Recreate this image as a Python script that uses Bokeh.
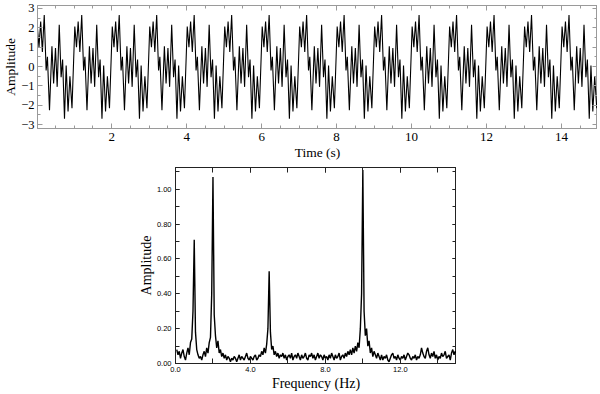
import numpy as np
from bokeh.plotting import figure
from bokeh.layouts import column, row
from bokeh.models import (LinearAxis, SingleIntervalTicker, PrintfTickFormatter, Range1d,
                          Spacer, CustomJSTickFormatter)
from bokeh.embed import file_html
from bokeh.resources import INLINE

# ---- top panel: one 1-s period of the time signal ----
cycle_t = [0.015, 0.060, 0.105, 0.150, 0.200, 0.250, 0.285, 0.340, 0.405, 0.450,
           0.500, 0.545, 0.600, 0.650, 0.690, 0.740, 0.785, 0.835, 0.885, 0.940]
cycle_v = [2.07, 1.00, 2.32, 0.75, 2.66, -0.20, 0.50, -2.26, 1.05, -0.88,
           0.96, -1.05, 2.15, -0.55, 0.36, -2.70, 0.05, -2.32, -0.50, -2.15]
n_periods = 15
start_t = 0.0
start_v = 0.10

# ---- bottom panel: amplitude spectrum, bins of 1/15 Hz (k = 1..225) ----
df = 1.0 / 15.0
spec_amp = [
    0.08, 0.05, 0.07, 0.03, 0.06, 0.08, 0.04, 0.02, 0.06, 0.09, 0.05, 0.12, 0.14, 0.30, 0.71,
    0.18, 0.08, 0.05, 0.03, 0.04, 0.02, 0.05, 0.07, 0.04, 0.09, 0.06, 0.12, 0.15, 0.40, 1.07,
    0.28, 0.16, 0.09, 0.13, 0.06, 0.08, 0.04, 0.06, 0.03, 0.05, 0.02, 0.04, 0.03, 0.01, 0.03,
    0.02, 0.04, 0.03, 0.01, 0.03, 0.05, 0.02, 0.04, 0.03, 0.02, 0.04, 0.06, 0.03, 0.02, 0.04,
    0.03, 0.02, 0.04, 0.05, 0.02, 0.03, 0.05, 0.04, 0.07, 0.05, 0.09, 0.06, 0.11, 0.20, 0.53,
    0.18, 0.08, 0.10, 0.05, 0.07, 0.04, 0.06, 0.03, 0.05, 0.04, 0.06, 0.03, 0.05, 0.02, 0.04,
    0.05, 0.03, 0.06, 0.02, 0.04, 0.05, 0.03, 0.06, 0.04, 0.02, 0.05, 0.03, 0.04, 0.06, 0.03,
    0.02, 0.05, 0.04, 0.06, 0.03, 0.05, 0.02, 0.04, 0.06, 0.03, 0.05, 0.04, 0.02, 0.05, 0.03,
    0.04, 0.02, 0.05, 0.03, 0.06, 0.04, 0.02, 0.05, 0.03, 0.04, 0.06, 0.02, 0.04, 0.05, 0.03,
    0.06, 0.04, 0.07, 0.05, 0.08, 0.05, 0.09, 0.06, 0.10, 0.07, 0.12, 0.09, 0.20, 0.40, 1.11,
    0.30, 0.16, 0.20, 0.10, 0.13, 0.06, 0.09, 0.04, 0.07, 0.05, 0.03, 0.06, 0.04, 0.02, 0.05,
    0.02, 0.04, 0.03, 0.05, 0.02, 0.01, 0.03, 0.05, 0.06, 0.03, 0.04, 0.02, 0.05, 0.03, 0.02,
    0.04, 0.03, 0.05, 0.02, 0.04, 0.06, 0.05, 0.03, 0.02, 0.04, 0.03, 0.05, 0.02, 0.04, 0.03,
    0.05, 0.09, 0.06, 0.04, 0.03, 0.07, 0.09, 0.05, 0.03, 0.06, 0.04, 0.07, 0.03, 0.05, 0.02,
    0.04, 0.03, 0.06, 0.04, 0.05, 0.07, 0.03, 0.04, 0.05, 0.02, 0.06, 0.08, 0.05, 0.07, 0.06,
]

# build series
time_s = [start_t] + [k + ct for k in range(n_periods) for ct in cycle_t]
ampl = [start_v] + [cv for k in range(n_periods) for cv in cycle_v]
freq = (np.arange(1, len(spec_amp) + 1) * df).tolist()

SERIF = "Liberation Serif"
SANS = "Liberation Sans"
BLANK = CustomJSTickFormatter(code="return ''")


def style_axis(ax, color, font, size, major_in, minor_in, labels=True):
    ax.axis_line_color = color
    ax.major_tick_line_color = color
    ax.minor_tick_line_color = color
    ax.major_tick_in = major_in
    ax.major_tick_out = 0
    ax.minor_tick_in = minor_in
    ax.minor_tick_out = 0
    ax.major_label_text_font = font
    ax.major_label_text_font_size = size
    ax.major_label_text_color = "black"
    if not labels:
        # mirror axis: ticks only, no labels and (almost) no space
        ax.formatter = BLANK
        ax.major_label_text_font_size = "1px"
        ax.major_label_standoff = 0
    ax.axis_label_text_font = SERIF
    ax.axis_label_text_font_style = "normal"
    ax.axis_label_text_color = "black"


# ---------------- top figure ----------------
p1 = figure(frame_width=560, frame_height=123,
            x_range=Range1d(0.02, 14.96), y_range=Range1d(-3.2, 3.15),
            output_backend="svg", toolbar_location=None,
            min_border_left=29, min_border_right=0, min_border_top=5, min_border_bottom=36)
p1.xgrid.visible = False
p1.ygrid.visible = False
p1.outline_line_color = "#9a9a9a"
p1.line(time_s, ampl, line_color="black", line_width=1.1)

for ax in p1.xaxis:
    style_axis(ax, "#9a9a9a", SERIF, "13px", 5, 3)
    ax.ticker = SingleIntervalTicker(interval=2, num_minor_ticks=4)
    ax.major_label_standoff = 4
    ax.axis_label = "Time (s)"
    ax.axis_label_text_font_size = "13.5px"
    ax.axis_label_standoff = 1
for ax in p1.yaxis:
    style_axis(ax, "#9a9a9a", SERIF, "12.5px", 5, 3)
    ax.ticker = SingleIntervalTicker(interval=1, num_minor_ticks=2)
    ax.major_label_standoff = 3
    ax.axis_label = "Amplitude"
    ax.axis_label_text_font_size = "13.5px"
    ax.axis_label_standoff = 0
top1 = LinearAxis(ticker=SingleIntervalTicker(interval=2, num_minor_ticks=4))
right1 = LinearAxis(ticker=SingleIntervalTicker(interval=1, num_minor_ticks=2))
style_axis(top1, "#9a9a9a", SERIF, "13px", 5, 3, labels=False)
style_axis(right1, "#9a9a9a", SERIF, "13px", 5, 3, labels=False)
p1.add_layout(top1, "above")
p1.add_layout(right1, "right")

# ---------------- bottom figure ----------------
p2 = figure(frame_width=281, frame_height=196,
            x_range=Range1d(0, 15), y_range=Range1d(0, 1.125),
            output_backend="svg", toolbar_location=None,
            min_border_left=37, min_border_right=0, min_border_top=3, min_border_bottom=29)
p2.xgrid.visible = False
p2.ygrid.visible = False
p2.outline_line_color = "#222222"
p2.line(freq, spec_amp, line_color="black", line_width=1.4)

for ax in p2.xaxis:
    style_axis(ax, "#222222", SANS, "7.5px", 5, 5)
    ax.ticker = SingleIntervalTicker(interval=4, num_minor_ticks=2)
    ax.formatter = PrintfTickFormatter(format="%.1f")
    ax.major_label_standoff = 3
    ax.axis_label = "Frequency (Hz)"
    ax.axis_label_text_font_size = "14px"
    ax.axis_label_standoff = 1
for ax in p2.yaxis:
    style_axis(ax, "#222222", SANS, "7.5px", 4, 4)
    ax.ticker = SingleIntervalTicker(interval=0.2, num_minor_ticks=2)
    ax.formatter = PrintfTickFormatter(format="%.2f")
    ax.major_label_standoff = 4
    ax.axis_label = "Amplitude"
    ax.axis_label_text_font_size = "14px"
    ax.axis_label_standoff = 0
top2 = LinearAxis(ticker=SingleIntervalTicker(interval=4, num_minor_ticks=2))
right2 = LinearAxis(ticker=SingleIntervalTicker(interval=0.2, num_minor_ticks=2))
style_axis(top2, "#222222", SANS, "7.5px", 5, 5, labels=False)
style_axis(right2, "#222222", SANS, "7.5px", 4, 4, labels=False)
p2.add_layout(top2, "above")
p2.add_layout(right2, "right")

bottom_row = row(Spacer(width=135, height=10), p2)
layout = column(p1, bottom_row, margin=(0, 0, -8, 0))

open("out.html", "w").write(file_html(layout, INLINE))
